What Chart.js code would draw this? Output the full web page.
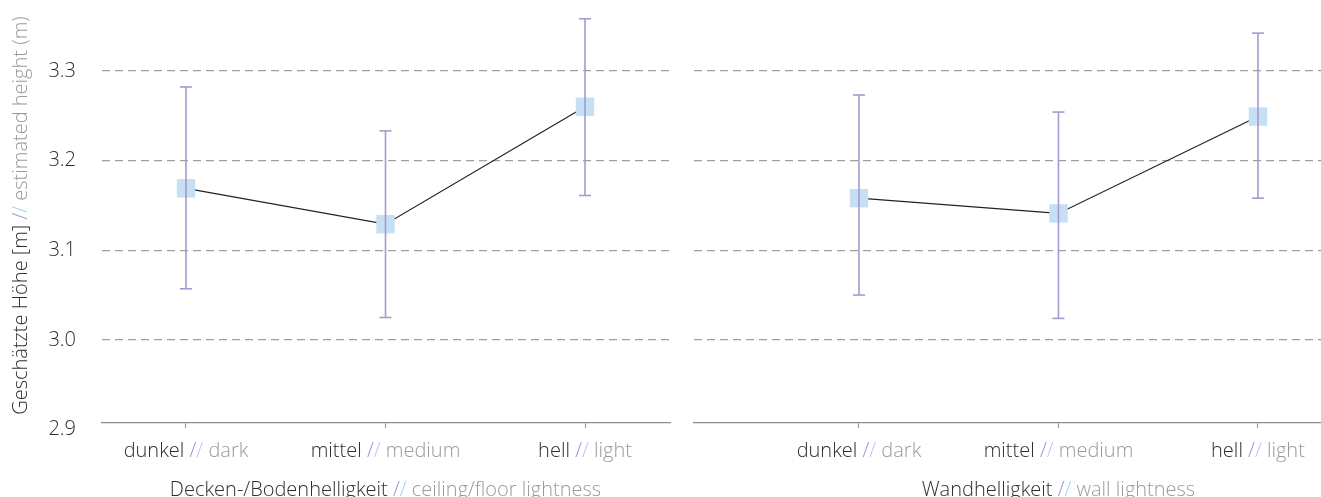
<!DOCTYPE html>
<html>
<head>
<meta charset="utf-8">
<script src="https://cdn.jsdelivr.net/npm/chart.js@4/dist/chart.umd.min.js"></script>
<style>
  html, body { margin: 0; padding: 0; background: #ffffff; }
  #wrap { position: relative; width: 1321px; height: 497px; overflow: hidden; }
  #c1 { position: absolute; left: 0; top: 0; }
  #c2 { position: absolute; left: 680px; top: 0; }
</style>
</head>
<body>
<div id="wrap">
  <canvas id="c1" width="680" height="497"></canvas>
  <canvas id="c2" width="641" height="497"></canvas>
</div>
<script>
// ---- data ----
const categoriesDE = ['dunkel', 'mittel', 'hell'];
const categoriesEN = ['dark', 'medium', 'light'];
const categoryIndex = [0, 1, 2];

const ceilMean = [3.169, 3.129, 3.260];
const ceilLow  = [3.057, 3.025, 3.161];
const ceilHigh = [3.282, 3.233, 3.358];

const wallMean = [3.158, 3.141, 3.249];
const wallLow  = [3.050, 3.024, 3.158];
const wallHigh = [3.273, 3.254, 3.342];

const yTickValues = [2.9, 3.0, 3.1, 3.2, 3.3];

const yTitleDE = 'Geschätzte Höhe [m]';
const yTitleEN = 'estimated height (m)';
const ceilTitleDE = 'Decken-/Bodenhelligkeit';
const ceilTitleEN = 'ceiling/floor lightness';
const wallTitleDE = 'Wandhelligkeit';
const wallTitleEN = 'wall lightness';

// ---- styles ----
const FONT = '300 20px "Open Sans", "Noto Sans", sans-serif';
const C_DARK = '#2e2e2e';
const C_GRAY = '#9a9a9a';
const C_PURPLE = '#9d90d6';
const C_BLUE = '#a9cdf0';
const C_ERR = '#a39bd0';
const C_MARK = '#c6dff3';

function segs(de, en) {
  return [
    { t: de + ' ', c: C_DARK },
    { t: '/', c: C_PURPLE },
    { t: '/', c: C_BLUE },
    { t: ' ' + en, c: C_GRAY }
  ];
}

function drawSegs(ctx, parts, x, y) {
  ctx.font = FONT;
  ctx.textBaseline = 'middle';
  ctx.textAlign = 'left';
  let total = 0;
  parts.forEach(p => total += ctx.measureText(p.t).width);
  let cx = x - total / 2;
  parts.forEach(p => {
    ctx.fillStyle = p.c;
    ctx.fillText(p.t, cx, y);
    cx += ctx.measureText(p.t).width;
  });
}

function makeTextPlugin(titleDE, titleEN, withYTitle) {
  return {
    id: 'multiText',
    afterDraw(chart) {
      const ctx = chart.ctx;
      const xs = chart.scales.x;
      const area = chart.chartArea;
      ctx.save();
      categoryIndex.forEach((v, i) => {
        drawSegs(ctx, segs(categoriesDE[i], categoriesEN[i]), xs.getPixelForValue(v), area.bottom + 28);
      });
      drawSegs(ctx, segs(titleDE, titleEN), xs.getPixelForValue(categoryIndex[1]), area.bottom + 67);
      if (withYTitle) {
        ctx.translate(21, (area.top + area.bottom) / 2);
        ctx.rotate(-Math.PI / 2);
        drawSegs(ctx, segs(yTitleDE, yTitleEN), 0, 0);
      }
      ctx.restore();
    }
  };
}

function buildConfig(mean, low, high, xMin, xMax, showY, titleDE, titleEN, padLeft, padRight) {
  const meanData = categoryIndex.map((v, i) => ({ x: v, y: mean[i] }));
  const errData = [];
  categoryIndex.forEach((v, i) => {
    errData.push({ x: v, y: low[i] });
    errData.push({ x: v, y: high[i] });
    errData.push({ x: v, y: null });
  });
  return {
    type: 'line',
    data: {
      datasets: [
        {
          data: errData,
          borderColor: C_ERR,
          borderWidth: 1.6,
          pointStyle: 'line',
          pointRadius: 6,
          pointBorderWidth: 1.6,
          pointBorderColor: C_ERR,
          pointBackgroundColor: C_ERR,
          spanGaps: false,
          clip: false,
          order: 0
        },
        {
          data: meanData,
          borderColor: '#222222',
          borderWidth: 1.2,
          pointStyle: 'rect',
          pointRadius: 13,
          pointBorderWidth: 0,
          pointBackgroundColor: C_MARK,
          clip: false,
          order: 1
        }
      ]
    },
    options: {
      responsive: false,
      animation: false,
      events: [],
      layout: { autoPadding: false, padding: { left: padLeft, right: padRight, top: 8, bottom: 0 } },
      plugins: { legend: { display: false }, tooltip: { enabled: false } },
      scales: {
        x: {
          type: 'linear',
          min: xMin,
          max: xMax,
          afterBuildTicks: s => { s.ticks = categoryIndex.map(v => ({ value: v })); },
          afterFit: s => { s.height = 74; s.paddingLeft = 0; s.paddingRight = 0; },
          ticks: { display: false },
          grid: { display: true, drawOnChartArea: false, drawTicks: true, tickLength: 5, tickColor: '#999999', tickWidth: 1.2 },
          border: { display: true, color: '#8e8e8e', width: 1.3 }
        },
        y: {
          type: 'linear',
          min: 2.9074,
          max: 3.37,
          afterBuildTicks: s => { s.ticks = yTickValues.map(v => ({ value: v })); },
          afterFit: s => { s.width = showY ? 102 : 0; s.paddingTop = 0; s.paddingBottom = 0; },
          ticks: {
            display: showY,
            padding: 26,
            color: C_DARK,
            font: { family: '"Open Sans", "Noto Sans", sans-serif', size: 20, weight: 300 },
            callback: v => Number(v).toFixed(1)
          },
          grid: {
            drawTicks: false,
            lineWidth: 1.3,
            color: c => (c.tick && c.tick.value < 2.95) ? 'rgba(0,0,0,0)' : '#9e9e9e'
          },
          border: { display: false, dash: [8, 5] }
        }
      }
    },
    plugins: [makeTextPlugin(titleDE, titleEN, showY)]
  };
}

new Chart(document.getElementById('c1'),
  buildConfig(ceilMean, ceilLow, ceilHigh, -0.421, 2.426, true, ceilTitleDE, ceilTitleEN, 0, 10));
new Chart(document.getElementById('c2'),
  buildConfig(wallMean, wallLow, wallHigh, -0.827, 2.316, false, wallTitleDE, wallTitleEN, 14, 0));
</script>
</body>
</html>
